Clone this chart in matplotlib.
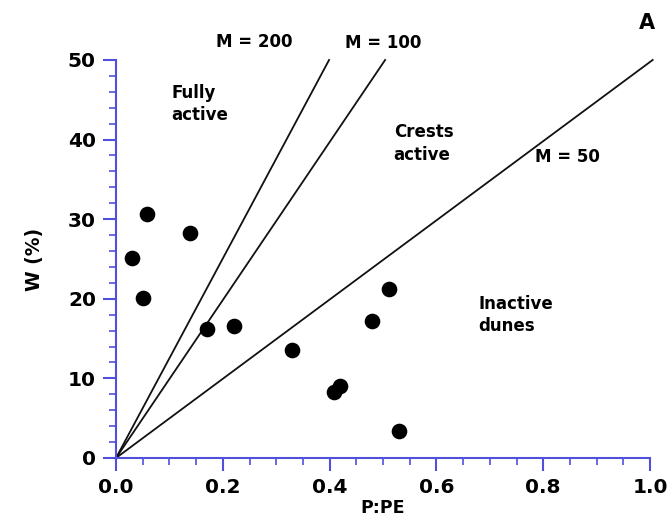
import matplotlib
matplotlib.use('Agg')
import matplotlib.pyplot as plt
from matplotlib.ticker import MultipleLocator

# observed sites
p_pe = [0.058, 0.138, 0.030, 0.050, 0.170, 0.221, 0.330, 0.409, 0.419, 0.511, 0.479, 0.530]
w_pct = [30.6, 28.3, 25.1, 20.1, 16.2, 16.6, 13.6, 8.3, 9.0, 21.2, 17.2, 3.4]

# mobility index lines (end points, start at origin)
line_labels = ['M = 200', 'M = 100', 'M = 50']
line_end_x = [0.399, 0.504, 1.005]
line_end_y = [50, 50, 50]

region_labels = ['Fully\nactive', 'Crests\nactive', 'Inactive\ndunes']
region_x = [0.103, 0.52, 0.678]
region_y = [44.5, 39.5, 18.0]

axis_col = '#5050dd'

fig = plt.figure(figsize=(6.71, 5.26), dpi=100)
ax = fig.add_axes([0.1729, 0.1293, 0.7958, 0.7567])

for ex, ey in zip(line_end_x, line_end_y):
    ax.plot([0, ex], [0, ey], color='#111111', lw=1.3, clip_on=False)

ax.scatter(p_pe, w_pct, s=105, color='black', zorder=3, clip_on=False)

ax.text(0.259, 52.2, line_labels[0], fontsize=12, fontweight='bold', ha='center', va='center')
ax.text(0.500, 52.1, line_labels[1], fontsize=12, fontweight='bold', ha='center', va='center')
ax.text(0.846, 37.8, line_labels[2], fontsize=12, fontweight='bold', ha='center', va='center')
for lab, x, y in zip(region_labels, region_x, region_y):
    ax.text(x, y, lab, fontsize=12, fontweight='bold', ha='left', va='center', linespacing=1.3)
ax.text(0.995, 54.7, 'A', fontsize=15, fontweight='bold', ha='center', va='center')

ax.set_xlim(0, 1.0)
ax.set_ylim(0, 50)
ax.xaxis.set_major_locator(MultipleLocator(0.2))
ax.xaxis.set_minor_locator(MultipleLocator(0.05))
ax.yaxis.set_major_locator(MultipleLocator(10))
ax.yaxis.set_minor_locator(MultipleLocator(2))
ax.xaxis.set_major_formatter(plt.FuncFormatter(lambda v, p: f'{v:.1f}'))

for s in ['top', 'right']:
    ax.spines[s].set_visible(False)
for s in ['left', 'bottom']:
    ax.spines[s].set_color(axis_col)
    ax.spines[s].set_linewidth(1.5)

ax.tick_params(which='major', length=9.5, width=1.5, color=axis_col, labelsize=14.5, pad=5)
ax.tick_params(which='minor', length=5, width=1.2, color=axis_col)
for lab in ax.get_xticklabels() + ax.get_yticklabels():
    lab.set_fontweight('bold')

ax.set_xlabel('P:PE', fontsize=12.5, fontweight='bold', labelpad=1)
ax.set_ylabel('W (%)', fontsize=13.5, fontweight='bold', labelpad=17)

fig.savefig('out.png', dpi=100)
